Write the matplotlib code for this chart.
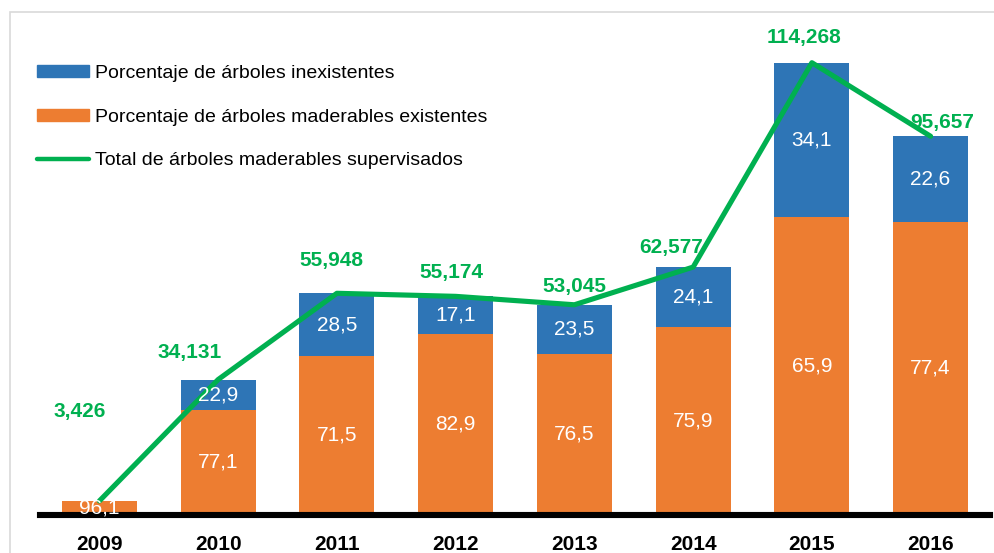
import numpy as np
import matplotlib as mpl
import matplotlib.pyplot as plt
from matplotlib import font_manager
from matplotlib.patches import Rectangle, Patch
from matplotlib.lines import Line2D

### data
years = ['2009', '2010', '2011', '2012', '2013', '2014', '2015', '2016']
totals = [3426, 34131, 55948, 55174, 53045, 62577, 114268, 95657]
pct_existentes = [96.1, 77.1, 71.5, 82.9, 76.5, 75.9, 65.9, 77.4]
pct_inexistentes = [3.9, 22.9, 28.5, 17.1, 23.5, 24.1, 34.1, 22.6]

# offsets (pixels) of the green total labels relative to the line points
label_dx = [-19.5, -28, -5, -4.5, 0, -22, -8, 12]
label_dy = [89, 27.5, 33, 24, 18, 19.5, 24.7, 14]

C_BLUE = '#2E75B6'
C_ORANGE = '#ED7D31'
C_GREEN = '#00B050'

names = {f.name for f in font_manager.fontManager.ttflist}
NARROW = 'Liberation Sans Narrow' in names
FONT = 'Liberation Sans Narrow' if NARROW else 'Liberation Sans'
FS = 16.5 if NARROW else 15      # numbers, years
FS_LEG = 16.5 if NARROW else 14  # legend
plt.rcParams['font.family'] = [FONT, 'DejaVu Sans']

W, H = 995, 553
fig = plt.figure(figsize=(W / 100, H / 100), dpi=100)

# light frame around chart area
fig.patches.append(Rectangle((10 / W, -0.1), 1.2, (H - 12.5) / H + 0.1,
                             transform=fig.transFigure, fill=False,
                             edgecolor='#D9D9D9', linewidth=1.2, zorder=0))

base_y = 514.5
top_y = 12.5
ax = fig.add_axes([40 / W, (H - base_y) / H, 950 / W, (base_y - top_y) / H])
ax.patch.set_alpha(0)

x = np.arange(len(years))
totals_arr = np.array(totals, dtype=float)
exist = totals_arr * np.array(pct_existentes) / 100.
inexist = totals_arr * np.array(pct_inexistentes) / 100.

width = 0.632
ax.bar(x, exist, width=width, color=C_ORANGE, zorder=2)
ax.bar(x, inexist, width=width, bottom=exist, color=C_BLUE, zorder=2)

ax.plot(x, totals_arr, color=C_GREEN, lw=3.7, zorder=3, solid_capstyle='round')

# segment labels
fmt = lambda v: ('%.1f' % v).replace('.', ',')
for i in range(len(years)):
    ax.text(x[i], exist[i] / 2., fmt(pct_existentes[i]), color='white',
            ha='center', va='center', fontsize=FS, zorder=4)
    if inexist[i] > 2000:
        ax.text(x[i], exist[i] + inexist[i] / 2., fmt(pct_inexistentes[i]), color='white',
                ha='center', va='center', fontsize=FS, zorder=4)
    ax.annotate('{:,}'.format(totals[i]), xy=(x[i], totals[i]),
                xytext=(label_dx[i] * 0.72, label_dy[i] * 0.72), textcoords='offset points',
                ha='center', va='center', color=C_GREEN, fontsize=FS, fontweight='bold', zorder=5)

ax.axhline(0, color='black', lw=4.4, zorder=3, clip_on=False)

scale = (base_y - 62.7) / 114268.
ax.set_ylim(0, (base_y - top_y) / scale)
ax.set_xlim(-0.5, 7.5)
ax.set_xticks(x)
ax.set_xticklabels(years, fontweight='bold', fontsize=FS)
ax.tick_params(axis='x', length=0, pad=14.5)
ax.set_yticks([])
for s in ax.spines.values():
    s.set_visible(False)

handles = [Patch(color=C_BLUE), Patch(color=C_ORANGE),
           Line2D([], [], color=C_GREEN, lw=3.2, solid_capstyle='round')]
labels = ['Porcentaje de árboles inexistentes',
          'Porcentaje de árboles maderables existentes',
          'Total de árboles maderables supervisados']
fig.legend(handles, labels, loc='upper left', bbox_to_anchor=(29 / W, 1 - 57 / H),
           frameon=False, fontsize=FS_LEG, handlelength=2.68, handleheight=0.62,
           handletextpad=0.31, labelspacing=1.37, borderaxespad=0)

plt.savefig('out.png', dpi=100)
plt.close()
